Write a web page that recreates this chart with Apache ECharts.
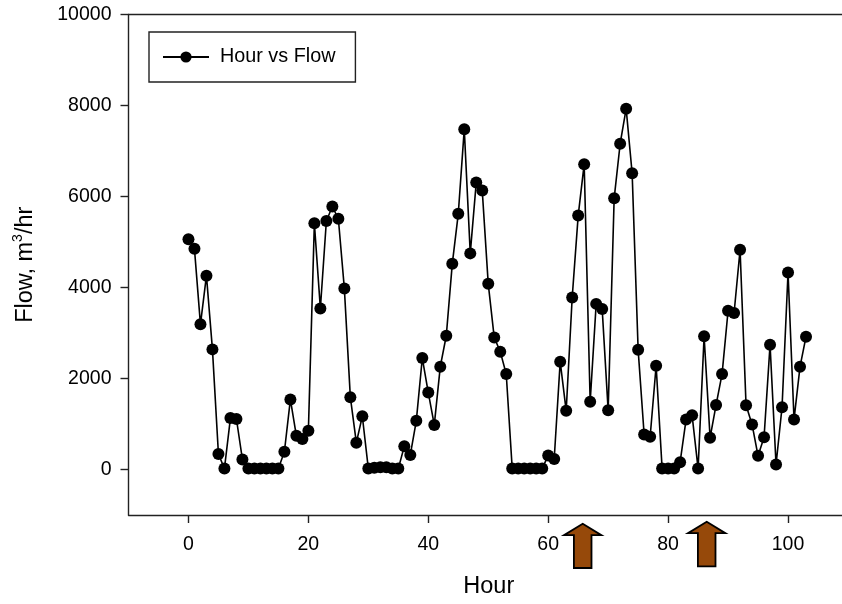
<!DOCTYPE html>
<html><head><meta charset="utf-8">
<style>html,body{margin:0;padding:0;background:#fff}#c{width:842px;height:604px}</style>
<script src="https://cdn.jsdelivr.net/npm/echarts@6/dist/echarts.min.js"></script>
</head><body><div id="c"></div>
<script>
const seriesName = 'Hour vs Flow';
const hours = [0,1,2,3,4,5,6,7,8,9,10,11,12,13,14,15,16,17,18,19,20,21,22,23,24,25,26,27,28,29,30,31,32,33,34,35,36,37,38,39,40,41,42,43,44,45,46,47,48,49,50,51,52,53,54,55,56,57,58,59,60,61,62,63,64,65,66,67,68,69,70,71,72,73,74,75,76,77,78,79,80,81,82,83,84,85,86,87,88,89,90,91,92,93,94,95,96,97,98,99,100,101,102,103];
const flow = [5060,4850,3190,4260,2640,340,20,1130,1110,220,20,20,20,20,20,20,390,1540,740,670,850,5410,3540,5460,5780,5510,3980,1590,590,1170,20,40,50,50,20,20,510,320,1070,2450,1690,980,2260,2940,4520,5620,7480,4750,6310,6130,4080,2900,2590,2100,20,20,20,20,20,20,310,230,2370,1290,3780,5580,6710,1490,3640,3530,1300,5960,7160,7930,6510,2630,770,720,2280,20,20,20,160,1100,1190,20,2930,700,1420,2100,3490,3440,4830,1410,990,300,710,2740,110,1370,4330,1100,2260,2920];
const xTicks = [0,20,40,60,80,100];
const yTicks = [0,2000,4000,6000,8000,10000];
const xTitle = 'Hour';
const font = '"Liberation Sans", Arial, sans-serif';
const ink = '#000';
const axisLine = {show:true, onZero:false, lineStyle:{color:'#222', width:1.4}};
const brown = '#96490a';

function arrow(tip, topY, bottomY){
  const hw = 18.7, sw = 8.8, headH = 11.5;
  return {type:'polygon', silent:true, z:10,
    shape:{points:[[tip,topY],[tip+hw,topY+headH],[tip+sw,topY+headH],[tip+sw,bottomY],[tip-sw,bottomY],[tip-sw,topY+headH],[tip-hw,topY+headH]]},
    style:{fill:brown, stroke:'#000', lineWidth:1.8}};
}

const chart = echarts.init(document.getElementById('c'), null, {renderer:'canvas'});
chart.setOption({
  animation:false,
  backgroundColor:'#fff',
  textStyle:{fontFamily:font, color:ink},
  grid:{left:128.5, right:0, top:14.5, height:501.5, containLabel:false},
  legend:{
    show:true, left:149, top:32, orient:'horizontal',
    data:[seriesName],
    itemWidth:46, itemHeight:14, itemGap:0,
    padding:[13.5,20,13.5,13],
    borderColor:'#222', borderWidth:1.4, backgroundColor:'#fff', borderRadius:0,
    textStyle:{fontSize:19.8, fontFamily:font, color:ink, padding:[3,0,0,6], lineHeight:20}
  },
  xAxis:[{
    type:'value', min:-10, max:109, position:'bottom',
    name:xTitle, nameLocation:'middle', nameGap:60,
    nameTextStyle:{fontSize:23.5, fontFamily:font, color:ink, padding:[0,0,0,7]},
    axisLine:axisLine,
    axisTick:{show:true, length:8, customValues:xTicks, lineStyle:{color:'#222', width:1.4}},
    axisLabel:{show:true, fontSize:19.5, fontFamily:font, color:ink, margin:20, customValues:xTicks, formatter:v=>String(v)},
    splitLine:{show:false}
  },{
    type:'value', min:-10, max:109, position:'top',
    axisLine:axisLine, axisTick:{show:false}, axisLabel:{show:false}, splitLine:{show:false}
  }],
  yAxis:{
    type:'value', min:-1000, max:10000,
    name:'{t|Flow, m}{s|3}{t|/hr}', nameLocation:'middle', nameGap:91, nameRotate:90,
    nameTextStyle:{rich:{
      t:{fontSize:23.5, fontFamily:font, color:ink, verticalAlign:'bottom', lineHeight:26},
      s:{fontSize:14, fontFamily:font, color:ink, verticalAlign:'top', lineHeight:26}
    }},
    axisLine:axisLine,
    axisTick:{show:true, length:8, customValues:yTicks, lineStyle:{color:'#222', width:1.4}},
    axisLabel:{show:true, fontSize:19.5, fontFamily:font, color:ink, margin:17, customValues:yTicks, formatter:v=>String(v)},
    splitLine:{show:false}
  },
  series:[{
    name:seriesName, type:'line', xAxisIndex:0,
    data:hours.map((h,i)=>[h,flow[i]]),
    symbol:'circle', symbolSize:12, showAllSymbol:true,
    lineStyle:{color:'#000', width:1.6},
    itemStyle:{color:'#000'}, clip:false
  }],
  graphic:[arrow(582.7,523.7,568), arrow(706.7,521.7,566.3)]
});
</script></body></html>
